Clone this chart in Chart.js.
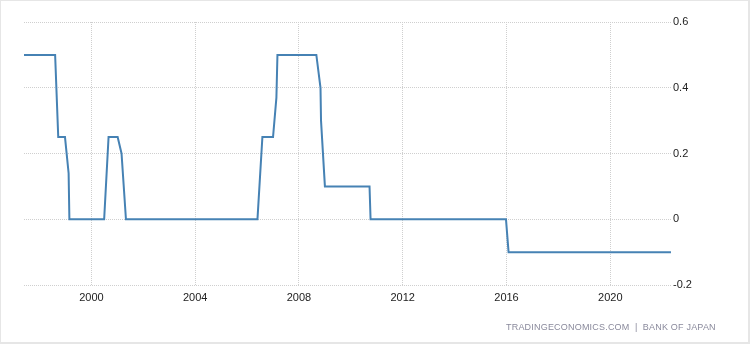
<!DOCTYPE html>
<html>
<head>
<meta charset="utf-8">
<script src="https://cdn.jsdelivr.net/npm/chart.js@4/dist/chart.umd.min.js"></script>
<style>
  html, body { margin: 0; padding: 0; background: #fff; }
  #wrap { position: relative; width: 750px; height: 344px; box-sizing: border-box; border: 1px solid #e6e6e6; border-right-width: 2px; border-bottom-width: 2px; overflow: hidden; }
  #c { position: absolute; left: -1px; top: -1px; }
  #src { position: absolute; left: 505px; top: 321px; font-family: "Liberation Sans", Arial, sans-serif; font-size: 9px; color: #8a8a9c; letter-spacing: 0.2px; white-space: nowrap; }
</style>
</head>
<body>
<div id="wrap">
  <canvas id="c" width="750" height="344"></canvas>
  <div id="src">TRADINGECONOMICS.COM &nbsp;|&nbsp; BANK OF JAPAN</div>
</div>
<script>
// Bank of Japan policy rate (%)
const years = [1997.40, 1998.60, 1998.72, 1998.98, 1999.12, 1999.15, 2000.49, 2000.66, 2001.01, 2001.16, 2001.33,
               2006.40, 2006.59, 2007.00, 2007.13, 2007.17, 2008.67, 2008.83, 2008.85, 2009.00,
               2010.72, 2010.76, 2015.98, 2016.08, 2022.34];
const rates = [0.5, 0.5, 0.25, 0.25, 0.14, 0, 0, 0.25, 0.25, 0.2, 0,
               0, 0.25, 0.25, 0.37, 0.5, 0.5, 0.4, 0.3, 0.1,
               0.1, 0, 0, -0.1, -0.1];
const xTickYears = [2000, 2004, 2008, 2012, 2016, 2020];
const yTicks = [-0.2, 0, 0.2, 0.4, 0.6];

const points = years.map((x, i) => ({ x: x, y: rates[i] }));
const font = { family: "Liberation Sans, Arial, sans-serif", size: 11 };
const gridStyle = { color: '#cfcfcf', lineWidth: 1, drawTicks: false };

new Chart(document.getElementById('c'), {
  type: 'line',
  data: {
    datasets: [{
      data: points,
      borderColor: '#4682b4',
      borderWidth: 2,
      pointRadius: 0,
      tension: 0,
      fill: false
    }]
  },
  options: {
    responsive: false,
    animation: false,
    devicePixelRatio: 1,
    layout: { padding: { left: 24, top: 22, right: 0, bottom: 0 } },
    plugins: { legend: { display: false }, tooltip: { enabled: false } },
    scales: {
      x: {
        type: 'linear',
        min: years[0],
        max: 2022.38,
        afterBuildTicks: s => { s.ticks = xTickYears.map(v => ({ value: v })); },
        afterFit: s => { s.height = 59; },
        grid: gridStyle,
        border: { display: false, dash: [1, 1] },
        ticks: { font: font, color: '#222', padding: 6, maxRotation: 0, autoSkip: false, callback: v => String(v) }
      },
      y: {
        position: 'right',
        min: -0.2,
        max: 0.6,
        afterBuildTicks: s => { s.ticks = yTicks.map(v => ({ value: v })); },
        afterFit: s => { s.width = 78; },
        grid: gridStyle,
        border: { display: false, dash: [1, 1] },
        ticks: { font: font, color: '#222', padding: 1, callback: v => String(Math.round(v * 10) / 10) }
      }
    }
  }
});
</script>
</body>
</html>
